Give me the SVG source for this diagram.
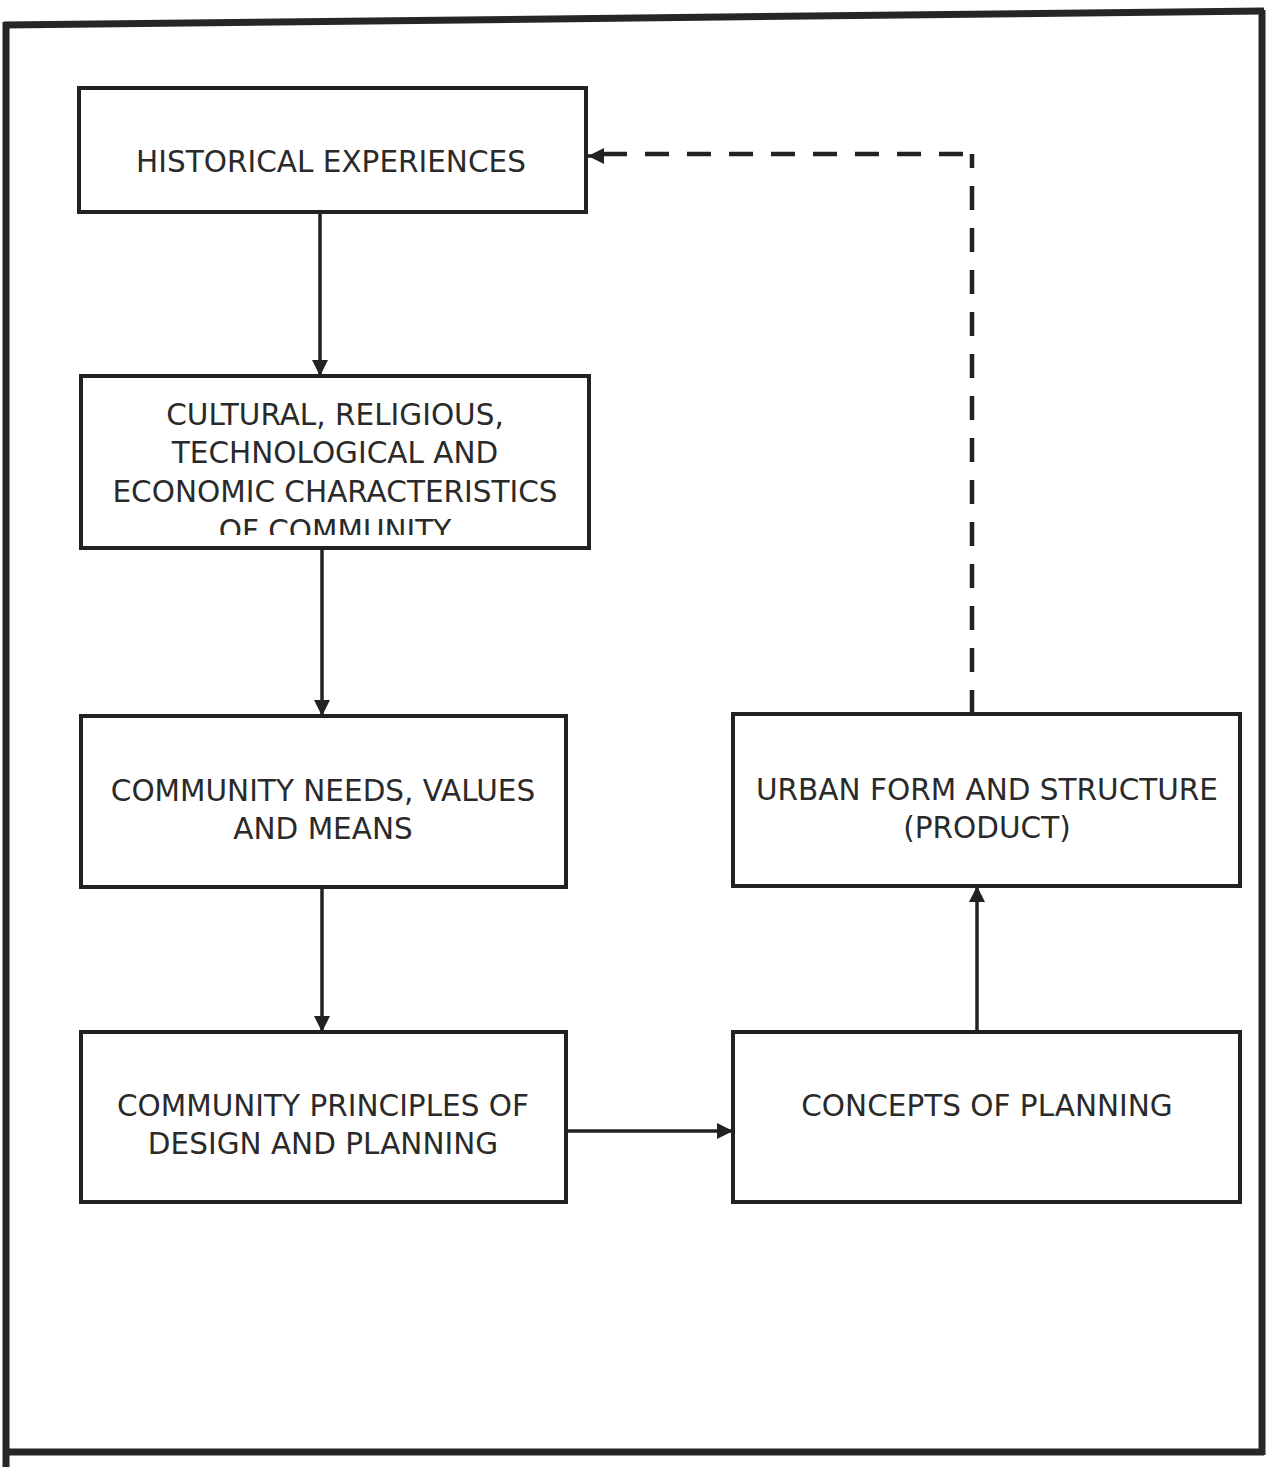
<svg xmlns="http://www.w3.org/2000/svg" width="1268" height="1467" viewBox="0 0 1268 1467">
  <style>
    .frame { fill: none; stroke: #262626; stroke-width: 7; }
    .box { fill: #ffffff; stroke: #222222; stroke-width: 4; }
    .label { font-family: "DejaVu Sans", Verdana, sans-serif; font-size: 29.5px; fill: #2a2a2a; text-anchor: middle; }
    .link { fill: none; stroke: #222222; stroke-width: 3.5; }
    .dash { fill: none; stroke: #222222; stroke-width: 4.5; stroke-dasharray: 24 18; }
  </style>
  <defs>
    <marker id="head" viewBox="0 0 10 10" refX="10" refY="5" markerWidth="16" markerHeight="16" markerUnits="userSpaceOnUse" orient="auto">
      <path d="M0,0 L10,5 L0,10 Z" fill="#222222"/>
    </marker>
    <clipPath id="clip-cultural">
      <rect x="83" y="378" width="504" height="157"/>
    </clipPath>
  </defs>

  <rect width="1268" height="1467" fill="#ffffff"/>

  <!-- outer frame -->
  <g id="frame">
    <path class="frame" d="M4,25 L1264,11"/>
    <path class="frame" d="M6,22 L6,1467"/>
    <path class="frame" d="M1262,10 L1262,1455"/>
    <path class="frame" d="M6,1452 L1264,1452"/>
  </g>

  <!-- connectors -->
  <g id="connectors">
    <path class="link" d="M320,212 L320,376" marker-end="url(#head)"/>
    <path class="link" d="M322,548 L322,716" marker-end="url(#head)"/>
    <path class="link" d="M322,887 L322,1032" marker-end="url(#head)"/>
    <path class="link" d="M566,1131 L733,1131" marker-end="url(#head)"/>
    <path class="link" d="M977,1032 L977,886" marker-end="url(#head)"/>
    <path class="dash" d="M972,714 L972,154"/>
    <path class="dash" d="M963,154 L600,154"/>
    <path class="link" d="M604,156 L588,156" marker-end="url(#head)"/>
  </g>

  <g id="historical">
    <rect class="box" x="79" y="88" width="507" height="124"/>
    <text class="label" x="331" y="172">HISTORICAL EXPERIENCES</text>
  </g>

  <g id="cultural">
    <rect class="box" x="81" y="376" width="508" height="172"/>
    <g clip-path="url(#clip-cultural)">
      <text class="label" x="335" y="425">CULTURAL, RELIGIOUS,</text>
      <text class="label" x="335" y="463">TECHNOLOGICAL AND</text>
      <text class="label" x="335" y="502">ECONOMIC CHARACTERISTICS</text>
      <text class="label" x="335" y="541">OF COMMUNITY</text>
    </g>
  </g>

  <g id="needs">
    <rect class="box" x="81" y="716" width="485" height="171"/>
    <text class="label" x="323" y="801">COMMUNITY NEEDS, VALUES</text>
    <text class="label" x="323" y="839">AND MEANS</text>
  </g>

  <g id="principles">
    <rect class="box" x="81" y="1032" width="485" height="170"/>
    <text class="label" x="323" y="1116">COMMUNITY PRINCIPLES OF</text>
    <text class="label" x="323" y="1154">DESIGN AND PLANNING</text>
  </g>

  <g id="urban">
    <rect class="box" x="733" y="714" width="507" height="172"/>
    <text class="label" x="987" y="800">URBAN FORM AND STRUCTURE</text>
    <text class="label" x="987" y="838">(PRODUCT)</text>
  </g>

  <g id="concepts">
    <rect class="box" x="733" y="1032" width="507" height="170"/>
    <text class="label" x="987" y="1116">CONCEPTS OF PLANNING</text>
  </g>
</svg>
